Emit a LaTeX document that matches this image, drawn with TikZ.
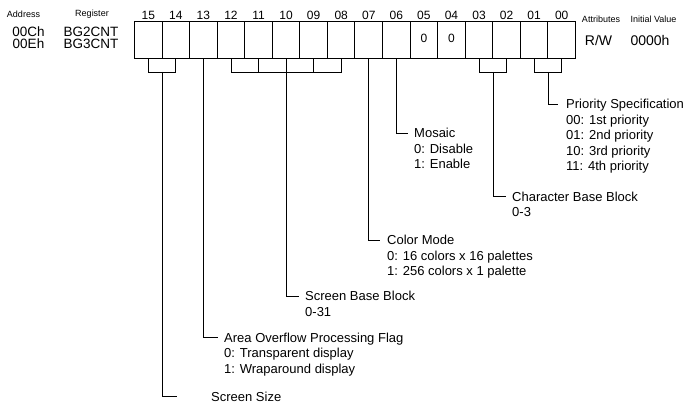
\documentclass[tikz,border=0pt]{standalone}
\usepackage{fontspec}
\setmainfont{Liberation Sans}
\usetikzlibrary{calc}
\newcommand\fsz[2]{\fontsize{#1}{#2}\selectfont}
\begin{document}
\begin{tikzpicture}[x=1pt,y=-1pt,
  cell/.style={draw, line width=1pt, minimum width=27.56pt, minimum height=37pt, inner sep=0pt},
  bitnum/.style={font=\fsz{12pt}{14pt}, inner sep=0pt},
  zero/.style={font=\fsz{12pt}{14pt}, inner sep=0pt},
  tiny/.style={font=\fsz{9pt}{10pt}, inner sep=0pt},
  head/.style={font=\fsz{13.5pt}{15pt}, inner sep=0pt},
  attr/.style={font=\fsz{14pt}{16pt}, inner sep=0pt},
  lbl/.style={font=\fsz{13pt}{15.5pt}, align=left, inner sep=0pt, anchor=north west},
  conn/.style={line width=0.9pt}]
\useasboundingbox (0,0) rectangle (688,404);
% header texts
\node[tiny] (hadr) at (23.5,14.5) {Address};
\node[tiny] (hreg) at (92,14.5) {Register};
\node[head] (a1) at (28.5,31.5) {00Ch};
\node[head] (r1) at (91,31.5) {BG2CNT};
\node[head] (a2) at (28.5,44) {00Eh};
\node[head] (r2) at (91,44) {BG3CNT};
\node[tiny] (hatt) at (601,19.5) {Attributes};
\node[tiny] (hini) at (653.5,19.5) {Initial Value};
\node[attr] (rw) at (598.5,40) {R/W};
\node[attr] (iv) at (650,40) {0000h};
% cells
\foreach \b [count=\i from 0] in {15,14,13,12,11,10,09,08,07,06,05,04,03,02,01,00}{
  \node[cell] (c\b) at ({134.5+(\i+0.5)*27.56},40.5) {};
  \node[bitnum] (n\b) at ({134.5+(\i+0.5)*27.56},15.5) {\b};
}
\node[zero] (z05) at ($(c05.center)+(0,-2.5)$) {0};
\node[zero] (z04) at ($(c04.center)+(0,-2.5)$) {0};
% bracket level
\coordinate (bry) at (0,72);
\draw[conn] (c15.south) -- (c15.south |- bry) -- (c14.south |- bry) -- (c14.south);
\draw[conn] (c12.south) -- (c12.south |- bry) -- (c08.south |- bry) -- (c08.south);
\foreach \b in {11,10,09}{\draw[conn] (c\b.south) -- (c\b.south |- bry);}
\draw[conn] (c03.south) -- (c03.south |- bry) -- (c02.south |- bry) -- (c02.south);
\draw[conn] (c01.south) -- (c01.south |- bry) -- (c00.south |- bry) -- (c00.south);
\coordinate (b1514) at (c15.south east |- bry);
\coordinate (b1208) at (c10.south |- bry);
\coordinate (b0302) at (c03.south east |- bry);
\coordinate (b0100) at (c01.south east |- bry);
% labels
\node[lbl] (pri) at (566,99.2) {Priority Specification\\00: 1st priority\\01: 2nd priority\\10: 3rd priority\\11: 4th priority};
\node[lbl] (mos) at (414,128.2) {Mosaic\\0: Disable\\1: Enable};
\node[lbl] (cbb) at (512,191.7) {Character Base Block\\0-3};
\node[lbl] (col) at (387,235.2) {Color Mode\\0: 16 colors x 16 palettes\\1: 256 colors x 1 palette};
\node[lbl] (sbb) at (305,291.2) {Screen Base Block\\0-31};
\node[lbl] (aof) at (224,332.7) {Area Overflow Processing Flag\\0: Transparent display\\1: Wraparound display};
\node[lbl] (siz) at (211,392) {Screen Size};
% connectors
\draw[conn] (b0100) |- ([xshift=-8pt,yshift=-4.8pt]pri.north west);
\draw[conn] (c06.south) |- ([xshift=-6pt,yshift=-4.8pt]mos.north west);
\draw[conn] (b0302) |- ([xshift=-6pt,yshift=-4.8pt]cbb.north west);
\draw[conn] (c07.south) |- ([xshift=-7pt,yshift=-4.8pt]col.north west);
\draw[conn] (b1208) |- ([xshift=-6pt,yshift=-4.8pt]sbb.north west);
\draw[conn] (c13.south) |- ([xshift=-6pt,yshift=-4.8pt]aof.north west);
\draw[conn] (b1514) |- ([xshift=-34pt,yshift=-4.8pt]siz.north west);
\end{tikzpicture}
\end{document}
